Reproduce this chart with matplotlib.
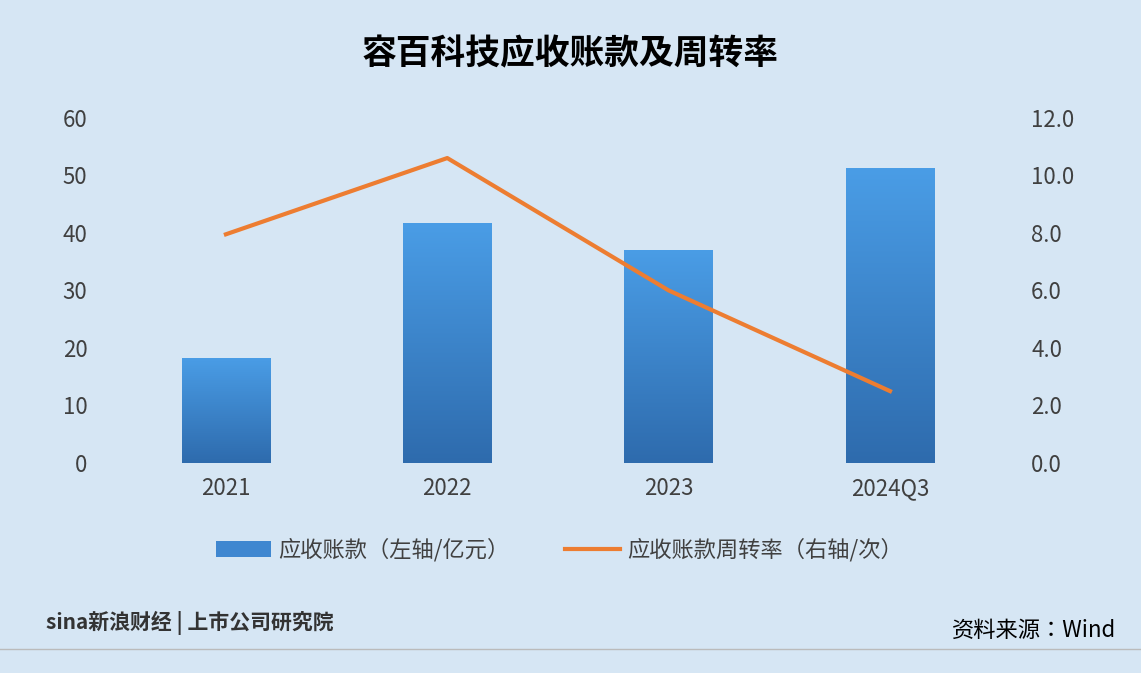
import matplotlib
matplotlib.use("Agg")
import matplotlib.pyplot as plt
import numpy as np
from matplotlib import font_manager as fm
from matplotlib.colors import LinearSegmentedColormap
from matplotlib.lines import Line2D
from matplotlib.patches import Patch

names = sorted({f.name for f in fm.fontManager.ttflist if 'Sans CJK' in f.name})
cjk = next((n for n in names if 'SC' in n), names[0] if names else 'Noto Sans CJK SC')
plt.rcParams['font.family'] = 'sans-serif'
plt.rcParams['font.sans-serif'] = [cjk, 'DejaVu Sans']

categories = ['2021', '2022', '2023', '2024Q3']
receivables = [18.3, 41.7, 37.1, 51.2]
turnover = [7.95, 10.6, 6.0, 2.5]
left_ticks = [0, 10, 20, 30, 40, 50, 60]
right_ticks = [0, 2, 4, 6, 8, 10, 12]

bg = '#D6E6F4'
fig = plt.figure(figsize=(11.41, 6.73), dpi=100, facecolor=bg)
ax = fig.add_axes([0.101, 0.312, 0.776, 0.513], facecolor=bg)
x = np.arange(len(categories))
cmap = LinearSegmentedColormap.from_list('g', ['#2E6BAD', '#4A9DE6'])
w = 0.4
bars = ax.bar(x, receivables, width=w, color='none', zorder=2)
grad = np.linspace(0, 1, 256).reshape(-1, 1)
for b in bars:
    im = ax.imshow(grad, cmap=cmap, origin='lower', aspect='auto',
                   extent=[b.get_x(), b.get_x() + b.get_width(), 0, b.get_height()], zorder=2)
    im.set_clip_path(b)
ax.set_xlim(-0.5, 3.5)
ax.set_ylim(0, 60)
ax.set_yticks(left_ticks)
ax.set_xticks(x)
ax.set_xticklabels(categories)
for s in ax.spines.values():
    s.set_visible(False)
ax.tick_params(length=0, labelsize=16, colors='#404040', pad=10)
ax.tick_params(axis='y', pad=20)

ax2 = ax.twinx()
ax2.plot(x, turnover, color='#ED7D31', lw=3, zorder=3)
ax2.set_ylim(0, 12)
ax2.set_yticks(right_ticks)
ax2.set_yticklabels([f'{v:.1f}' for v in right_ticks])
for s in ax2.spines.values():
    s.set_visible(False)
ax2.tick_params(length=0, labelsize=16, colors='#404040', pad=22)

fig.text(0.5, 0.92, '容百科技应收账款及周转率', ha='center', va='center',
         fontsize=25, fontweight='bold', color='black')
handles = [Patch(facecolor='#3F87D0'), Line2D([0], [0], color='#ED7D31', lw=3)]
fig.legend(handles, ['应收账款（左轴/亿元）', '应收账款周转率（右轴/次）'],
           loc='center', bbox_to_anchor=(0.49, 0.183), ncol=2, frameon=False,
           fontsize=16, labelcolor='#404040', columnspacing=2.5, handlelength=2.5,
           handletextpad=0.3)
fig.text(0.978, 0.063, '资料来源：Wind', ha='right', va='center', fontsize=16, color='black')
fig.text(0.04, 0.075, 'sina新浪财经 | 上市公司研究院', ha='left', va='center',
         fontsize=15, fontweight='bold', color='#333333')
fig.add_artist(Line2D([0, 1], [0.035, 0.035], color='#BBBBBB', lw=1))
fig.savefig('out.png', dpi=100, facecolor=bg)
